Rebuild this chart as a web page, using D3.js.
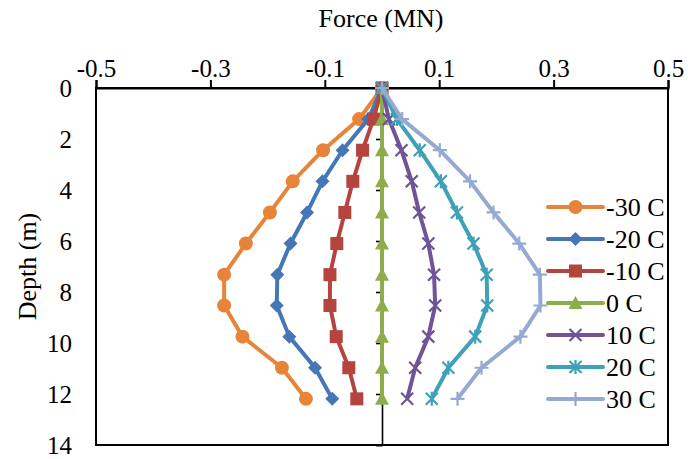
<!DOCTYPE html>
<html><head><meta charset="utf-8">
<script src="https://cdn.jsdelivr.net/npm/d3@7"></script>
<style>
html,body{margin:0;padding:0;background:#fff;}
svg{display:block;font-family:"Liberation Serif","Times New Roman",serif;}
</style></head>
<body><svg id="c" width="688" height="459"></svg>
<script>
// ---- data ----
const depths = [0, 1.22, 2.44, 3.66, 4.88, 6.10, 7.32, 8.53, 9.75, 10.97, 12.19];
const seriesNames = ["-30 C", "-20 C", "-10 C", "0 C", "10 C", "20 C", "30 C"];
const forceM30 = [0, -0.040, -0.103, -0.156, -0.196, -0.238, -0.276, -0.276, -0.244, -0.175, -0.133];
const forceM20 = [0, -0.024, -0.069, -0.104, -0.131, -0.160, -0.183, -0.184, -0.162, -0.117, -0.087];
const forceM10 = [0, -0.015, -0.034, -0.051, -0.065, -0.079, -0.091, -0.091, -0.080, -0.058, -0.044];
const force0   = [0, 0, 0, 0, 0, 0, 0, 0, 0, 0, 0];
const forceP10 = [0, 0.012, 0.034, 0.052, 0.065, 0.081, 0.091, 0.093, 0.081, 0.058, 0.044];
const forceP20 = [0, 0.026, 0.066, 0.103, 0.131, 0.160, 0.183, 0.184, 0.163, 0.116, 0.087];
const forceP30 = [0, 0.035, 0.101, 0.154, 0.195, 0.240, 0.276, 0.277, 0.242, 0.174, 0.132];
const xTicks = [-0.5, -0.3, -0.1, 0.1, 0.3, 0.5];
const yTicks = [0, 2, 4, 6, 8, 10, 12, 14];

const colors = ["#E8843A", "#4576B5", "#B5443F", "#8DAD4B", "#6F5498", "#3FA1B8", "#94AAD3"];
const markers = ["circle", "diamond", "square", "triangle", "x", "star", "plus"];
const seriesValues = [forceM30, forceM20, forceM10, force0, forceP10, forceP20, forceP30];
const series = seriesNames.map((n, i) => ({name: n, color: colors[i], marker: markers[i],
  pts: depths.map((d, j) => ({d: d, v: seriesValues[i][j]}))}));

// ---- layout ----
const svg = d3.select("#c");
const L = 96, R = 668, T = 88, B = 445;
const x = d3.scaleLinear().domain([-0.5, 0.5]).range([L, R]);
const y = d3.scaleLinear().domain([0, 14]).range([T, B]);
const FS = 25;

// box
svg.append("rect").attr("x", L).attr("y", T).attr("width", R - L).attr("height", B - T)
  .attr("fill", "none").attr("stroke", "#000").attr("stroke-width", 2);

// top axis
const xAxis = d3.axisTop(x).tickValues(xTicks).tickSize(8).tickFormat(d3.format(".1f"));
const gx = svg.append("g").attr("transform", `translate(0,${T})`).call(xAxis);
gx.attr("font-family", null);
gx.select(".domain").attr("stroke", "#000").attr("stroke-width", 2);
gx.selectAll(".tick line").attr("stroke", "#000").attr("stroke-width", 2);
gx.selectAll(".tick text").attr("font-size", FS).attr("fill", "#000")
  .attr("font-family", "Liberation Serif, Times New Roman, serif").attr("dy", "-0.02em")
  .text(d => d3.format(".1f")(d).replace("−", "-"));

// vertical zero axis with ticks to the left; labels placed at left of box
const yAxis = d3.axisLeft(y).tickValues(yTicks).tickSize(6).tickFormat("");
const gy = svg.append("g").attr("transform", `translate(${x(0)},0)`).call(yAxis);
gy.select(".domain").attr("stroke", "#000").attr("stroke-width", 1.6);
gy.selectAll(".tick line").attr("stroke", "#000").attr("stroke-width", 1.6);
svg.append("g").selectAll("text").data(yTicks).join("text")
  .attr("x", 72).attr("y", d => y(d)).attr("dy", "0.35em").attr("text-anchor", "end")
  .attr("font-size", FS).attr("fill", "#000").text(d => d);

// titles
svg.append("text").attr("x", (L + R) / 2 - 1).attr("y", 27).attr("text-anchor", "middle")
  .attr("font-size", 26).attr("fill", "#000").text("Force (MN)");
svg.append("text").attr("transform", `translate(36,${(T + B) / 2}) rotate(-90)`)
  .attr("text-anchor", "middle").attr("font-size", 26).attr("fill", "#000").text("Depth (m)");

// markers
function drawMarker(g, type, color) {
  const s = 7;
  if (type === "circle") g.append("circle").attr("r", 7).attr("fill", color);
  else if (type === "diamond") g.append("path").attr("d", `M0,${-s}L${s},0L0,${s}L${-s},0Z`).attr("fill", color);
  else if (type === "square") g.append("rect").attr("x", -6.5).attr("y", -6.5).attr("width", 13).attr("height", 13).attr("fill", color);
  else if (type === "triangle") g.append("path").attr("d", `M0,-7L7,6L-7,6Z`).attr("fill", color);
  else if (type === "x") g.append("path").attr("d", "M-6,-6L6,6M-6,6L6,-6").attr("stroke", color).attr("stroke-width", 2.2).attr("fill", "none");
  else if (type === "star") g.append("path").attr("d", "M-6,-6L6,6M-6,6L6,-6M0,-7L0,7").attr("stroke", color).attr("stroke-width", 2.2).attr("fill", "none");
  else if (type === "plus") g.append("path").attr("d", "M-7,0L7,0M0,-7L0,7").attr("stroke", color).attr("stroke-width", 2.2).attr("fill", "none");
}

const line = d3.line().x(p => x(p.v)).y(p => y(p.d));
series.forEach(s => {
  const g = svg.append("g");
  g.append("path").attr("d", line(s.pts)).attr("fill", "none").attr("stroke", s.color)
    .attr("stroke-width", 4).attr("stroke-linejoin", "round");
  g.selectAll("g.m").data(s.pts).join("g").attr("class", "m")
    .attr("transform", p => `translate(${x(p.v)},${y(p.d)})`)
    .each(function () { drawMarker(d3.select(this), s.marker, s.color); });
});

// legend
const lg = svg.append("g");
series.forEach((s, i) => {
  const cy = 207 + i * 32;
  const g = lg.append("g");
  g.append("line").attr("x1", 548).attr("x2", 603).attr("y1", cy).attr("y2", cy)
    .attr("stroke", s.color).attr("stroke-width", 4).attr("stroke-linecap", "round");
  drawMarker(g.append("g").attr("transform", `translate(575.5,${cy})`), s.marker, s.color);
  g.append("text").attr("x", 606).attr("y", cy).attr("dy", "0.35em").attr("font-size", 26)
    .attr("fill", "#000").text(s.name);
});
</script></body></html>
